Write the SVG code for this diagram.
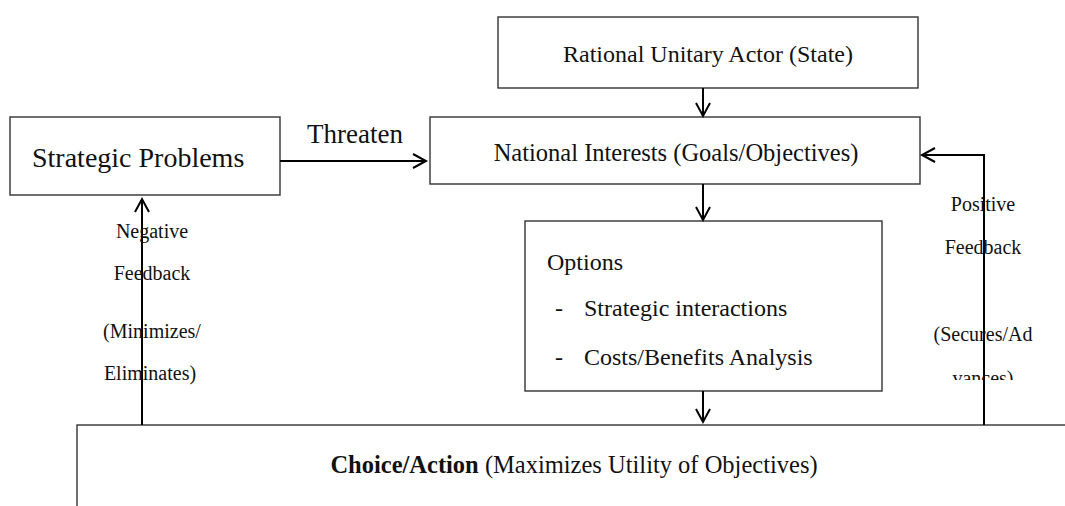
<svg xmlns="http://www.w3.org/2000/svg" width="1065" height="506" viewBox="0 0 1065 506">
<style>
.box{fill:#fff;stroke:#333;stroke-width:1.4}
.t{font-family:"Liberation Serif","Times New Roman",serif;fill:#111}
.c{stroke:#000;stroke-width:2;fill:none}
.h{stroke:#000;stroke-width:2;fill:none;stroke-linejoin:miter}
</style>
<defs>
<clipPath id="clipPos"><rect x="900" y="180" width="165" height="200"/></clipPath>
</defs>
<rect width="1065" height="506" fill="#fff"/>
<g id="rational">
<rect class="box" x="498" y="17" width="420" height="71"/>
<text class="t" x="708" y="62" font-size="24" text-anchor="middle">Rational Unitary Actor (State)</text>
</g>
<g id="national">
<rect class="box" x="430" y="117" width="490" height="67"/>
<text class="t" x="676" y="161" font-size="24.5" text-anchor="middle">National Interests (Goals/Objectives)</text>
</g>
<g id="strategic">
<rect class="box" x="10" y="117" width="270" height="78"/>
<text class="t" x="32" y="167" font-size="28">Strategic Problems</text>
</g>
<g id="options">
<rect class="box" x="525" y="221" width="357" height="170"/>
<text class="t" x="547" y="270" font-size="24">Options</text>
<text class="t" x="555" y="316" font-size="24">-</text>
<text class="t" x="584" y="316" font-size="24">Strategic interactions</text>
<text class="t" x="555" y="365" font-size="24">-</text>
<text class="t" x="584" y="365" font-size="24">Costs/Benefits Analysis</text>
</g>
<g id="choice">
<rect class="box" x="77" y="425" width="1000" height="100"/>
<text class="t" x="574" y="473" font-size="24.5" text-anchor="middle"><tspan font-weight="bold">Choice/Action</tspan> (Maximizes Utility of Objectives)</text>
</g>
<g id="connectors">
<line class="c" x1="703" y1="88" x2="703" y2="115"/>
<polyline class="h" points="696,103 703,116 710,103"/>
<line class="c" x1="703" y1="184" x2="703" y2="219"/>
<polyline class="h" points="696,207 703,220 710,207"/>
<line class="c" x1="703" y1="391" x2="703" y2="421"/>
<polyline class="h" points="696,409 703,422 710,409"/>
<line class="c" x1="280" y1="161" x2="425" y2="161"/>
<polyline class="h" points="413,154 426,161 413,168"/>
<text class="t" x="307" y="143" font-size="27">Threaten</text>
<line class="c" x1="142" y1="425" x2="142" y2="200"/>
<polyline class="h" points="135,212 142,199 149,212"/>
<polyline class="c" points="984,425 984,155 923,155"/>
<polyline class="h" points="935,148 922,155 935,162"/>
<g class="t" font-size="20" text-anchor="middle">
<text x="152" y="238">Negative</text>
<text x="152" y="280">Feedback</text>
<text x="152" y="338">(Minimizes/</text>
<text x="150" y="380">Eliminates)</text>
</g>
<g class="t" font-size="20" text-anchor="middle" clip-path="url(#clipPos)">
<text x="983" y="211">Positive</text>
<text x="983" y="254">Feedback</text>
<text x="983" y="341">(Secures/Ad</text>
<text x="983" y="385">vances)</text>
</g>
</g>
</svg>
